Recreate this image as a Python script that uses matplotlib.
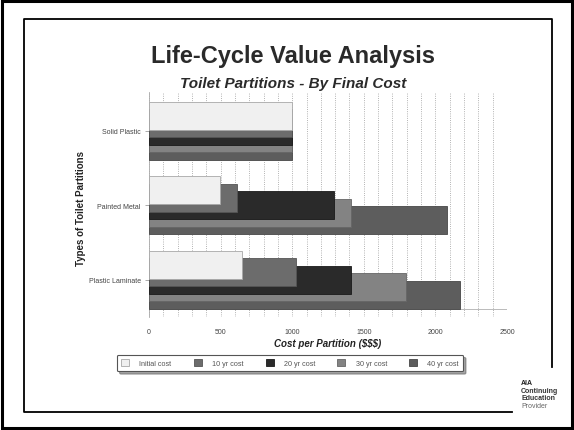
"""Life-cycle value analysis slide: overlapping horizontal bars per partition type."""
import matplotlib
matplotlib.use('Agg')
import matplotlib.pyplot as plt
from matplotlib.lines import Line2D
from matplotlib.patches import Rectangle, Patch
from matplotlib.ticker import MultipleLocator
import numpy as np

# data
categories = ['Solid Plastic', 'Painted Metal', 'Plastic Laminate']
series_names = ['Initial cost', '10 yr cost', '20 yr cost', '30 yr cost', '40 yr cost']
initial_cost = [1000, 495, 650]
cost_10yr = [1000, 618, 1030]
cost_20yr = [1000, 1292, 1412]
cost_30yr = [1000, 1410, 1792]
cost_40yr = [1000, 2080, 2172]
x_ticks = [0, 500, 1000, 1500, 2000, 2500]

series = [initial_cost, cost_10yr, cost_20yr, cost_30yr, cost_40yr]
colors = ['#f0f0f0', '#6c6c6c', '#2a2a2a', '#838383', '#5d5d5d']
edges = ['#a8a8a8', '#555555', '#1a1a1a', '#666666', '#474747']

W, H = 574, 431
fig = plt.figure(figsize=(W / 100, H / 100), dpi=100)
plt.rcParams['font.family'] = ['Liberation Sans', 'DejaVu Sans']


def fx(px):
    return px / W


def fy(py):
    return 1 - py / H


# plot area in pixels: x 149..507, y 93..318
ax = fig.add_axes([fx(149), fy(318), (507 - 149) / W, (318 - 93) / H])

y = np.arange(len(categories))
bar_h = 0.376
step = 0.1
# draw the 40 yr bar first so the initial cost ends up on top
for i in reversed(range(len(series))):
    ax.barh(y + (i - 2) * step, series[i], height=bar_h, color=colors[i],
            edgecolor=edges[i], linewidth=0.6, zorder=3 + (len(series) - i))

ax.set_xlim(0, 2500)
ax.set_ylim(2.5, -0.52)
ax.set_xticks(x_ticks)
ax.xaxis.set_minor_locator(MultipleLocator(100))
ax.grid(axis='x', which='both', color='#9a9a9a', linestyle=':', linewidth=0.6, zorder=0)
ax.set_yticks(y)
ax.set_yticklabels(categories)
ax.tick_params(axis='y', length=3, width=0.5, color='#888888', labelsize=5,
               labelcolor='#444444', pad=3)
ax.tick_params(axis='x', which='both', length=0, labelsize=5, labelcolor='#444444', pad=8)
for side in ['top', 'right', 'bottom']:
    ax.spines[side].set_visible(False)
ax.spines['left'].set_color('#aaaaaa')
ax.spines['left'].set_linewidth(0.6)
ax.axhline(2.39, color='#b0b0b0', linewidth=0.6, zorder=1)

ax.set_xlabel('Cost per Partition ($$$)', fontsize=7, fontweight='bold',
              fontstyle='italic', color='#222222', labelpad=2)
fig.text(fx(81), fy(208), 'Types of Toilet Partitions', rotation=90, fontsize=7,
         fontweight='bold', color='#222222', ha='center', va='center')

fig.text(fx(293), fy(57), 'Life-Cycle Value Analysis', fontsize=17, fontweight='bold',
         color='#2a2a2a', ha='center', va='center')
fig.text(fx(293), fy(84), 'Toilet Partitions - By Final Cost', fontsize=11,
         fontweight='bold', fontstyle='italic', color='#2a2a2a', ha='center', va='center')

handles = [Patch(facecolor=c, edgecolor=e, linewidth=0.6) for c, e in zip(colors, edges)]
leg = fig.legend(handles, series_names, loc='center', ncol=5,
                 bbox_to_anchor=(fx(290), fy(364)), fontsize=5.2, frameon=True,
                 fancybox=True, shadow=True, handlelength=1.1, handleheight=1.1,
                 columnspacing=3.1, handletextpad=1.4, borderpad=0.6)
leg.get_frame().set_edgecolor('#555555')
leg.get_frame().set_linewidth(0.8)
for t in leg.get_texts():
    t.set_color('#555555')

# slide frame
fig.add_artist(Rectangle((fx(2), fy(429)), (570) / W, (427) / H, transform=fig.transFigure,
                         fill=False, edgecolor='black', linewidth=2.2))
fig.add_artist(Line2D([fx(512), fx(24), fx(24), fx(552), fx(552)],
                      [fy(413), fy(413), fy(20), fy(20), fy(368)],
                      transform=fig.transFigure, color='black', linewidth=1.3))

# provider mark, one line at a time so the spacing stays tight
for k, (word, col, wt) in enumerate([('AIA', '#222222', 'bold'),
                                     ('Continuing', '#333333', 'bold'),
                                     ('Education', '#333333', 'bold'),
                                     ('Provider', '#666666', 'normal')]):
    fig.text(fx(521), fy(384 + k * 7.5), word, fontsize=5, fontweight=wt,
             color=col, ha='left', va='center')

fig.savefig('out.png', dpi=100)
